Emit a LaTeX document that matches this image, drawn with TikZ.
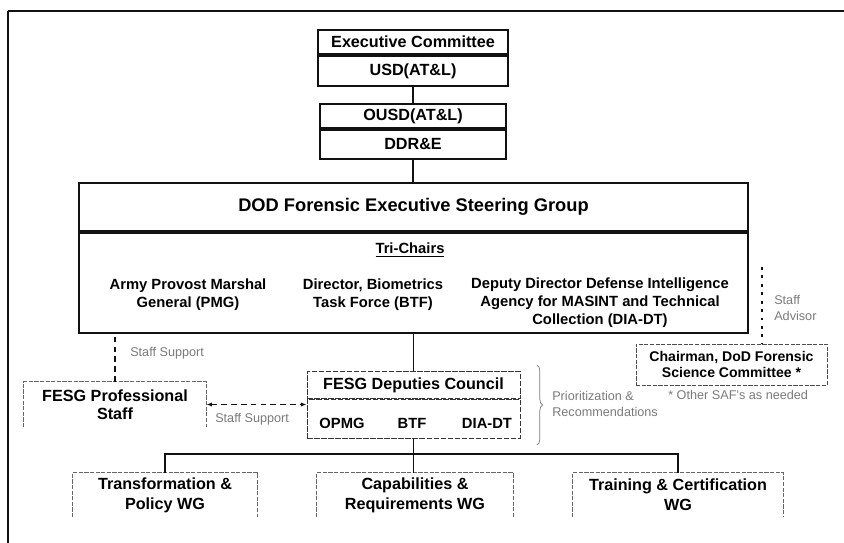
\documentclass[tikz,border=0pt]{standalone}
\usepackage{fontspec}
\setmainfont{Liberation Sans}
\usetikzlibrary{positioning, arrows.meta, decorations.pathreplacing}
\definecolor{ink}{HTML}{111111}
\definecolor{faint}{HTML}{7A7A7A}
\tikzset{
  headbox/.style   = {rectangle, draw=ink, line width=1.4pt, fill=white, align=center,
                       inner sep=0pt, font=\fontsize{11.5}{13}\selectfont\bfseries},
  chairtext/.style = {inner sep=0pt, align=center, font=\fontsize{10.5}{12.8}\selectfont\bfseries},
  councilbox/.style= {rectangle, draw=ink!85, line width=0.6pt, dash pattern=on 4pt off 1pt,
                       align=center, inner sep=0pt, font=\fontsize{11.5}{13}\selectfont\bfseries},
  deptext/.style   = {inner sep=0pt, font=\fontsize{10.5}{12}\selectfont\bfseries},
  openbox/.style   = {rectangle, inner sep=0pt, align=center,
                       font=\fontsize{11.5}{12.8}\selectfont\bfseries},
  wgbox/.style     = {openbox, font=\fontsize{11.5}{14.2}\selectfont\bfseries},
  chairbox/.style  = {rectangle, draw=ink!75, line width=0.6pt, dash pattern=on 3pt off 1pt,
                       align=center, inner sep=0pt, font=\fontsize{10}{11.4}\selectfont\bfseries},
  edgeline/.style  = {draw=black!60, line width=0.6pt, dash pattern=on 3pt off 1pt},
  link/.style      = {draw=ink, line width=1.4pt},
  support/.style   = {draw=ink, line width=1pt, dash pattern=on 4pt off 3pt},
  advisor/.style   = {draw=ink, line width=1.3pt, dash pattern=on 2pt off 4pt},
  bracket/.style   = {decorate, decoration={brace, amplitude=4pt}, draw=faint, line width=0.5pt},
  note/.style      = {inner sep=0pt, text=faint, font=\fontsize{9}{11}\selectfont},
}
\begin{document}
\begin{tikzpicture}[x=0.025cm, y=-0.025cm]
  \useasboundingbox (0,0) rectangle (844,543);
  % frame
  \draw[ink, line width=2pt] (8,11) -- (844,11);
  \draw[ink, line width=1.2pt] (8,11) -- (8,543);

  % top of the chain
  \node[headbox, anchor=north, minimum width=4.75cm, minimum height=0.6cm] (exec) at (413,29) {Executive Committee};
  \node[headbox, below=0pt of exec, minimum width=4.75cm, minimum height=0.75cm] (usd) {USD(AT\&L)};
  \node[headbox, anchor=north, minimum width=4.65cm, minimum height=0.6cm] (ousd) at (413,103) {OUSD(AT\&L)};
  \node[headbox, below=0pt of ousd, minimum width=4.65cm, minimum height=0.725cm] (ddre) {DDR\&E};

  % steering group
  \node[headbox, anchor=north, minimum width=16.725cm, minimum height=1.2cm,
        font=\fontsize{13}{15}\selectfont\bfseries] (fesg) at (413.5,182) {DOD Forensic Executive Steering Group};
  \node[headbox, below=0pt of fesg, minimum width=16.725cm, minimum height=2.5cm] (chairs) {};
  \node[chairtext] (trichairs) at (410,250) {\underline{Tri-Chairs}};
  \node[chairtext, anchor=north] (pmg) at (188,279) {Army Provost Marshal\\General (PMG)};
  \node[chairtext, anchor=north] (btf) at (373,279) {Director, Biometrics\\Task Force (BTF)};
  \node[chairtext, anchor=north] (diadt) at (600,278) {Deputy Director Defense Intelligence\\Agency for MASINT and Technical\\Collection (DIA-DT)};

  % deputies council
  \node[councilbox, anchor=north, minimum width=5.325cm, minimum height=0.675cm] (council) at (413.5,371) {FESG Deputies Council};
  \node[councilbox, below=0pt of council, minimum width=5.325cm, minimum height=0.975cm] (deputies) {};
  \node[deptext] (opmg) at (342,423) {OPMG};
  \node[deptext] (btfdep) at (412,423) {BTF};
  \node[deptext] (diadep) at (487,423) {DIA-DT};

  % side boxes
  \node[openbox, minimum width=4.55cm, minimum height=1.125cm] (profstaff) at (115,404.5) {FESG Professional\\Staff};
  \node[chairbox, minimum width=4.775cm, minimum height=1.025cm] (chairman) at (731.5,364.5) {Chairman, DoD Forensic\\Science Committee *};

  % working groups
  \node[wgbox, minimum width=4.6cm, minimum height=1.1cm] (policywg) at (165,495) {Transformation \&\\Policy WG};
  \node[wgbox, minimum width=4.9cm, minimum height=1.1cm] (capwg) at (415,495) {Capabilities \&\\Requirements WG};
  \node[wgbox, minimum width=5.25cm, minimum height=1.1cm] (trainwg) at (678,495) {Training \& Certification\\WG};
  \foreach \n in {profstaff, policywg, capwg, trainwg}
    \draw[edgeline] (\n.south west) |- (\n.north east) -- (\n.south east);

  % solid links
  \draw[link] (usd) -- (ousd);
  \draw[link] (ddre.south) -- (ddre.south |- fesg.north);
  \draw[link] (chairs) -- (council);
  \coordinate (bar) at (415,454);
  \draw[link] (deputies.south) -- (deputies.south |- capwg.north);
  \draw[link] (policywg.north) |- (bar) -| (trainwg.north);

  % staff support and advice
  \draw[support] (profstaff.north) -- (profstaff.north |- chairs.south);
  \draw[support, {Latex[length=4pt]}-{Latex[length=4pt]}] (profstaff.east) -- (profstaff.east -| deputies.west);
  \coordinate (advtop) at (762,267);
  \draw[advisor] (advtop) -- (advtop |- chairman.north);
  \coordinate (bracetop) at (537,365);
  \coordinate (bracebot) at (537,445);
  \draw[bracket] (bracetop) -- (bracebot);

  % notes
  \node[note, anchor=west] (supportup) at (130,353) {Staff Support};
  \node[note, anchor=west] (supportlow) at (215,419) {Staff Support};
  \node[note, anchor=west, align=left] (advisorlbl) at (774,308) {Staff\\Advisor};
  \node[note, anchor=west, align=left] (prio) at (552,404) {Prioritization \&\\Recommendations};
  \node[note, anchor=west] (othersaf) at (668,395) {* Other SAF's as needed};
\end{tikzpicture}
\end{document}
